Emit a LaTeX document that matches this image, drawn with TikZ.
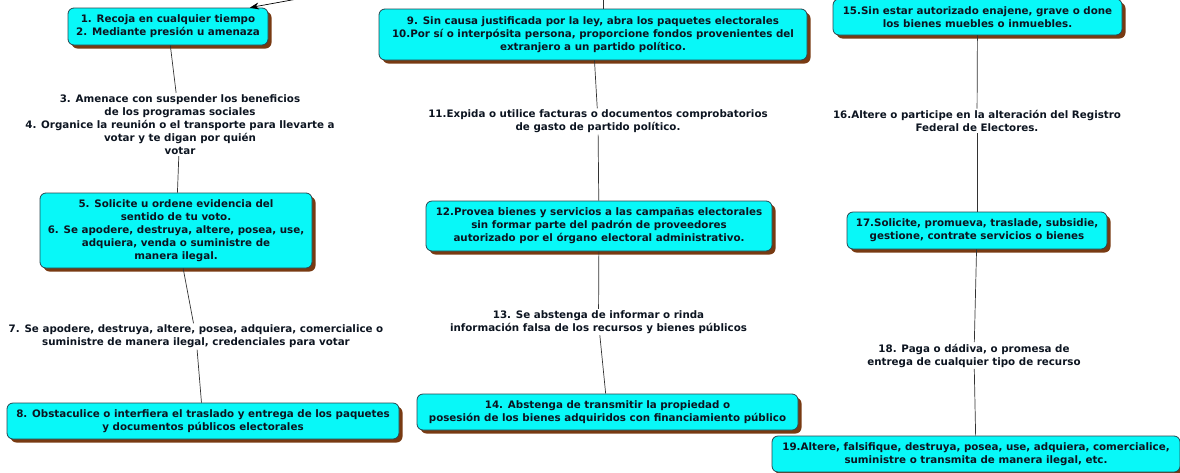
\documentclass[tikz,border=0pt]{standalone}
\usepackage{fontspec}
\setmainfont{DejaVu Sans}
\usetikzlibrary{shadows,arrows.meta}
\definecolor{boxfill}{RGB}{8,248,248}
\definecolor{boxline}{RGB}{40,70,80}
\definecolor{shcol}{RGB}{120,58,18}
\definecolor{txtcol}{RGB}{12,20,32}
\definecolor{linkcol}{RGB}{50,50,50}
\tikzset{
  concept/.style={draw=boxline, line width=0.8pt, fill=boxfill, rounded corners=6pt,
    inner sep=0pt, align=center, text=txtcol,
    drop shadow={shadow xshift=3.5pt, shadow yshift=-3.5pt, fill=shcol, opacity=1}},
  linklabel/.style={inner sep=1.5pt, align=center, text=txtcol},
  link/.style={draw=linkcol, line width=0.7pt},
}
\begin{document}
\begin{tikzpicture}[x=1pt, y=-1pt, font=\fontsize{10.3}{13}\selectfont\bfseries]
\useasboundingbox (0,0) rectangle (1180,472);
% column 1
\node[concept, minimum width=200pt, minimum height=37pt] (n1) at (168,26.5)
  {1. Recoja en cualquier tiempo\\2. Mediante presión u amenaza};
\node[linklabel] (l34) at (180,124.5)
  {3. Amenace con suspender los beneficios\\de los programas sociales\\4. Organice la reunión o el transporte para llevarte a\\votar y te digan por quién\\votar};
\node[concept, minimum width=272pt, minimum height=75pt] (n5) at (176,230.5)
  {5. Solicite u ordene evidencia del\\sentido de tu voto.\\6. Se apodere, destruya, altere, posea, use,\\adquiera, venda o suministre de\\manera ilegal.};
\node[linklabel] (l7) at (196,336.5)
  {7. Se apodere, destruya, altere, posea, adquiera, comercialice o\\suministre de manera ilegal, credenciales para votar};
\node[concept, minimum width=392pt, minimum height=36pt] (n8) at (203,421)
  {8. Obstaculice o interfiera el traslado y entrega de los paquetes\\y documentos públicos electorales};
% column 2
\node[concept, minimum width=428pt, minimum height=51pt] (n9) at (593,34.5)
  {9. Sin causa justificada por la ley, abra los paquetes electorales\\10.Por sí o interpósita persona, proporcione fondos provenientes del\\extranjero a un partido político.};
\node[linklabel] (l11) at (598,121.5)
  {11.Expida o utilice facturas o documentos comprobatorios\\de gasto de partido político.};
\node[concept, minimum width=346pt, minimum height=50pt] (n12) at (599,226)
  {12.Provea bienes y servicios a las campañas electorales\\sin formar parte del padrón de proveedores\\autorizado por el órgano electoral administrativo.};
\node[linklabel] (l13) at (598.5,322)
  {13. Se abstenga de informar o rinda\\información falsa de los recursos y bienes públicos};
\node[concept, minimum width=381pt, minimum height=36pt] (n14) at (607.5,412)
  {14. Abstenga de transmitir la propiedad o\\posesión de los bienes adquiridos con financiamiento público};
% column 3
\node[concept, minimum width=289pt, minimum height=36pt] (n15) at (977.5,17)
  {15.Sin estar autorizado enajene, grave o done\\los bienes muebles o inmuebles.};
\node[linklabel] (l16) at (977,121)
  {16.Altere o participe en la alteración del Registro\\Federal de Electores.};
\node[concept, minimum width=260pt, minimum height=37pt] (n17) at (977,230.5)
  {17.Solicite, promueva, traslade, subsidie,\\gestione, contrate servicios o bienes};
\node[linklabel] (l18) at (974,355.5)
  {18. Paga o dádiva, o promesa de\\entrega de cualquier tipo de recurso};
\node[concept, minimum width=408pt, minimum height=36pt] (n19) at (976,454)
  {19.Altere, falsifique, destruya, posea, use, adquiera, comercialice,\\suministre o transmita de manera ilegal, etc.};
% incoming connectors from outside the frame
\coordinate (in1) at (300,-1.5);
\coordinate (in9) at (603.5,-5);
\draw[link, -{Stealth[length=9pt, width=7pt]}, draw=black] (in1) -- (n1.13);
\draw[link] (in9) -- (in9 |- n9.north);
% connectors
\draw[link] (n1) -- (l34);
\draw[link] (l34) -- (n5);
\draw[link] (n5) -- (l7);
\draw[link] (l7) -- (n8);
\draw[link] (n9) -- (l11);
\draw[link] (l11) -- (n12);
\draw[link] (n12) -- (l13);
\draw[link] (l13) -- (n14);
\draw[link] (n15) -- (l16);
\draw[link] (l16) -- (n17);
\draw[link] (n17) -- (l18);
\draw[link] (l18) -- (n19);
\end{tikzpicture}
\end{document}
